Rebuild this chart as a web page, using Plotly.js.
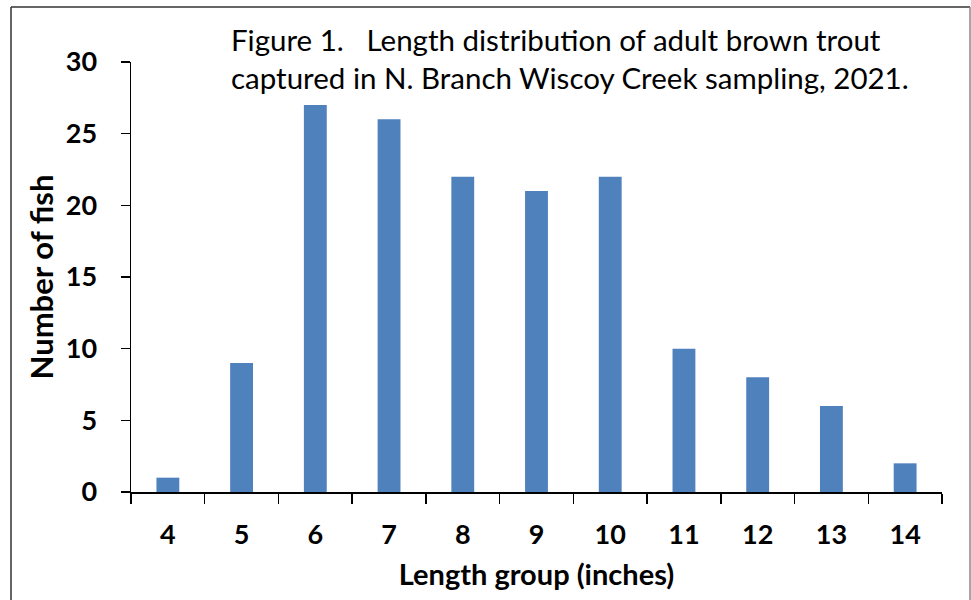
<!DOCTYPE html>
<html><head><meta charset="utf-8">
<script src="https://cdn.plot.ly/plotly-3.0.1.min.js"></script>
<style>html,body{margin:0;padding:0;background:#fff;}#chart{width:971px;height:600px;}</style>
</head><body><div id="chart"></div>
<script>
const categories = ["4","5","6","7","8","9","10","11","12","13","14"];
const counts = [1, 9, 27, 26, 22, 21, 22, 10, 8, 6, 2];
const yTicks = [0, 5, 10, 15, 20, 25, 30];
const titleLines = ["Figure 1.   Length distribution of adult brown trout", "captured in N. Branch Wiscoy Creek sampling, 2021."];
const xTitle = "Length group (inches)";
const yTitle = "Number of fish";

const font = "Lato, 'Open Sans', sans-serif";
const trace = {type: "bar", x: categories, y: counts, marker: {color: "#4F81BD"}, hoverinfo: "x+y"};
const layout = {
  width: 971, height: 600,
  margin: {l: 131, r: 29, t: 62, b: 108},
  paper_bgcolor: "#fff", plot_bgcolor: "#fff",
  bargap: 0.69,
  showlegend: false,
  font: {family: font, color: "#000"},
  xaxis: {type: "category", showline: true, linecolor: "#000", linewidth: 1.5,
    ticks: "outside", tickson: "boundaries", ticklen: 10, tickwidth: 1.5, tickcolor: "#000",
    tickfont: {size: 27, family: font, weight: "bold"}, ticklabelstandoff: 18,
    title: {text: "<b>" + xTitle + "</b>", font: {size: 29, family: font}, standoff: 16},
    showgrid: false, zeroline: false, fixedrange: true},
  yaxis: {range: [0, 30], tickvals: yTicks, showline: true, linecolor: "#000", linewidth: 1.5,
    ticks: "outside", ticklen: 9, tickwidth: 1.5, tickcolor: "#000",
    tickfont: {size: 27, family: font, weight: "bold"}, ticklabelstandoff: 18,
    title: {text: "<b>" + yTitle + "</b>", font: {size: 31, family: font}, standoff: 3},
    showgrid: false, zeroline: false, fixedrange: true},
  annotations: [{xref: "paper", yref: "paper", x: (229-131)/811, y: (492-20)/430, xanchor: "left", yanchor: "top",
    text: titleLines.join("<br>"), align: "left", showarrow: false, font: {size: 29.5, family: font, color: "#000"}}],
  shapes: [
    {type: "line", xref: "paper", yref: "paper", x0: (11-131)/811, x1: (970-131)/811, y0: (492-7)/430, y1: (492-7)/430, line: {color: "#333", width: 1.5}},
    {type: "line", xref: "paper", yref: "paper", x0: (11-131)/811, x1: (11-131)/811, y0: (492-7)/430, y1: -0.3, line: {color: "#333", width: 1.5}},
    {type: "line", xref: "paper", yref: "paper", x0: (970-131)/811, x1: (970-131)/811, y0: (492-7)/430, y1: -0.3, line: {color: "#888", width: 1.5}}
  ]
};
Plotly.newPlot("chart", [trace], layout, {displayModeBar: false, staticPlot: true});
</script></body></html>
